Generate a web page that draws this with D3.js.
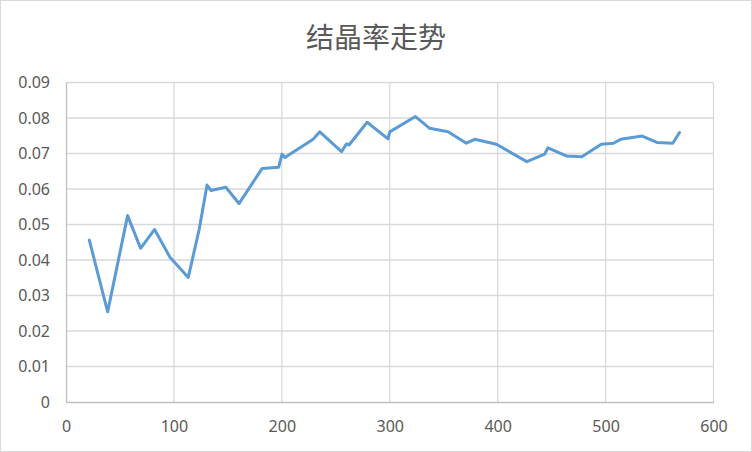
<!DOCTYPE html>
<html>
<head>
<meta charset="utf-8">
<script src="https://cdn.jsdelivr.net/npm/d3@7"></script>
<style>
  body { margin: 0; background: #fff; }
  svg { display: block; }
</style>
</head>
<body>
<svg></svg>
<script>
// chart values
const xValues = [21.6, 38.6, 57.1, 69.1, 82.1, 96.3, 113.3, 123.4, 130.7, 134.2, 148.1, 160.3,
  181.8, 197, 200.2, 202.8, 229, 235.2, 255.3, 259.9, 262.3, 279, 298.4, 300, 323.8,
  337, 354, 371, 378.7, 398.8, 427, 443.5, 446.6, 463.6, 478, 496, 507.4, 514, 534,
  547.5, 562.3, 568.5];
const yValues = [0.0456, 0.0254, 0.0525, 0.0433, 0.0486, 0.0408, 0.0351, 0.0486, 0.0611, 0.0596, 0.0605, 0.0559,
  0.0658, 0.0661, 0.0698, 0.0689, 0.074, 0.0761, 0.0705, 0.0727, 0.0724, 0.0788, 0.0741, 0.0761, 0.0804,
  0.0771, 0.0761, 0.0729, 0.074, 0.0726, 0.0677, 0.0698, 0.0716, 0.0693, 0.0691, 0.0726, 0.0729, 0.074, 0.0749,
  0.0731, 0.0729, 0.0759];
const xTicks = [0, 100, 200, 300, 400, 500, 600];
const yTicks = [0, 0.01, 0.02, 0.03, 0.04, 0.05, 0.06, 0.07, 0.08, 0.09];
const chartTitle = '结晶率走势';

const size = {w: 752, h: 452};
const plot = {l: 66, r: 713.5, t: 82.5, b: 402};
const svg = d3.select('svg')
    .attr('width', size.w)
    .attr('height', size.h);

// outer chart border
svg.append('rect')
    .attr('x', 0.5).attr('y', 0.5)
    .attr('width', size.w - 1).attr('height', size.h - 1)
    .attr('fill', '#fff')
    .attr('stroke', '#d9d9d9');

const x = d3.scaleLinear().domain([0, 600]).range([plot.l, plot.r]);
const y = d3.scaleLinear().domain([0, 0.09]).range([plot.b, plot.t]);

// gridlines
svg.append('g')
    .selectAll('line')
    .data(yTicks.slice(1))
    .join('line')
    .attr('x1', plot.l).attr('x2', plot.r)
    .attr('y1', d => y(d)).attr('y2', d => y(d))
    .attr('stroke', '#d9d9d9').attr('stroke-width', 1.3);

svg.append('g')
    .selectAll('line')
    .data(xTicks.slice(1))
    .join('line')
    .attr('x1', d => x(d)).attr('x2', d => x(d))
    .attr('y1', plot.t).attr('y2', plot.b)
    .attr('stroke', '#d9d9d9').attr('stroke-width', 1.3);

// axes
const yAxis = d3.axisLeft(y).tickValues(yTicks)
    .tickSize(0).tickPadding(16)
    .tickFormat(d => d === 0 ? '0' : d3.format('.2f')(d));
const xAxis = d3.axisBottom(x).tickValues(xTicks)
    .tickSize(0).tickPadding(19);

const yG = svg.append('g').attr('transform', `translate(${plot.l},0)`).call(yAxis);
const xG = svg.append('g').attr('transform', `translate(0,${plot.b})`).call(xAxis);

[yG, xG].forEach(g => {
    g.select('.domain').attr('stroke', '#bfbfbf').attr('stroke-width', 1.3);
    g.selectAll('text')
        .attr('fill', '#595959')
        .style('font-family', '"Noto Sans", sans-serif')
        .style('font-size', '16px');
});

// the line
const line = d3.line()
    .x((d, i) => x(xValues[i]))
    .y(d => y(d));

svg.append('path')
    .datum(yValues)
    .attr('d', line)
    .attr('fill', 'none')
    .attr('stroke', '#5b9bd5')
    .attr('stroke-width', 3)
    .attr('stroke-linejoin', 'round')
    .attr('stroke-linecap', 'round');

// title
svg.append('text')
    .attr('x', size.w / 2)
    .attr('y', 48)
    .attr('text-anchor', 'middle')
    .attr('fill', '#595959')
    .style('font-family', '"Noto Sans CJK SC", sans-serif')
    .style('font-size', '28px')
    .text(chartTitle);
</script>
</body>
</html>
